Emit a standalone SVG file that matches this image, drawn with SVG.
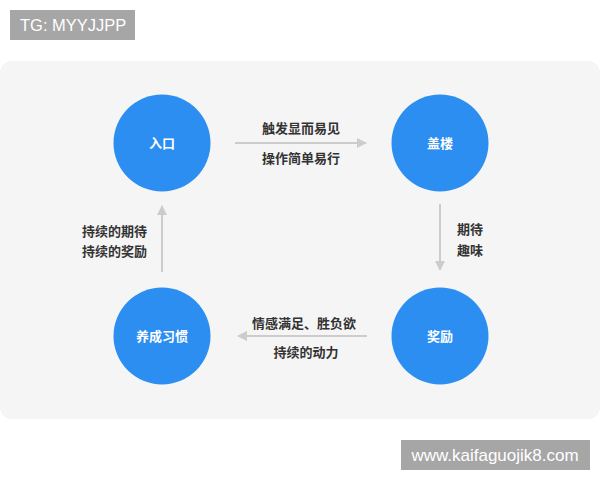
<svg xmlns="http://www.w3.org/2000/svg" width="600" height="480" viewBox="0 0 600 480">
<style>
.node{fill:#2b8ef0}
.nt{font-family:"Noto Sans CJK SC","Noto Sans",sans-serif;font-size:13px;font-weight:bold;fill:#ffffff;text-anchor:middle}
.lbl{font-family:"Noto Sans CJK SC","Noto Sans",sans-serif;font-size:13px;font-weight:bold;fill:#333333}
.c{text-anchor:middle}
.edge{stroke:#cccccc;stroke-width:2;fill:none;marker-end:url(#ah)}
.wm{fill:#a6a6a6}
.wmt{font-family:"Liberation Sans",Arial,sans-serif;fill:#ffffff}
</style>
<defs>
<marker id="ah" viewBox="0 0 10 10" refX="9" refY="5" markerWidth="5" markerHeight="5" orient="auto" markerUnits="strokeWidth">
<path d="M0,0 L10,5 L0,10 z" fill="#cccccc"/>
</marker>
</defs>
<rect width="600" height="480" fill="#ffffff"/>
<rect x="10" y="10" width="125" height="30" class="wm"/>
<text x="20" y="31" class="wmt" font-size="16.5">TG: MYYJJPP</text>
<rect x="0" y="61" width="600" height="358" rx="12" fill="#f5f5f5"/>
<g id="connectors">
<line x1="235" y1="143" x2="366" y2="143" class="edge"/>
<line x1="440" y1="204" x2="440" y2="270" class="edge"/>
<line x1="367" y1="336" x2="238" y2="336" class="edge"/>
<line x1="162" y1="272" x2="162" y2="206" class="edge"/>
<text x="301" y="133" class="lbl c">触发显而易见</text>
<text x="301" y="163" class="lbl c">操作简单易行</text>
<text x="457" y="234" class="lbl">期待</text>
<text x="457" y="255" class="lbl">趣味</text>
<text x="304" y="328" class="lbl c">情感满足、胜负欲</text>
<text x="306" y="357" class="lbl c">持续的动力</text>
<text x="82" y="236" class="lbl">持续的期待</text>
<text x="82" y="256" class="lbl">持续的奖励</text>
</g>
<g id="node-entry"><circle cx="162" cy="143" r="48.5" class="node"/><text x="162" y="148" class="nt">入口</text></g>
<g id="node-build"><circle cx="440" cy="143" r="48.5" class="node"/><text x="440" y="148" class="nt">盖楼</text></g>
<g id="node-reward"><circle cx="440" cy="336" r="48.5" class="node"/><text x="440" y="341" class="nt">奖励</text></g>
<g id="node-habit"><circle cx="162" cy="336" r="48.5" class="node"/><text x="162" y="341" class="nt">养成习惯</text></g>
<rect x="401" y="440" width="189" height="30" class="wm"/>
<text x="495" y="461" class="wmt" font-size="17" text-anchor="middle">www.kaifaguojik8.com</text>
</svg>
